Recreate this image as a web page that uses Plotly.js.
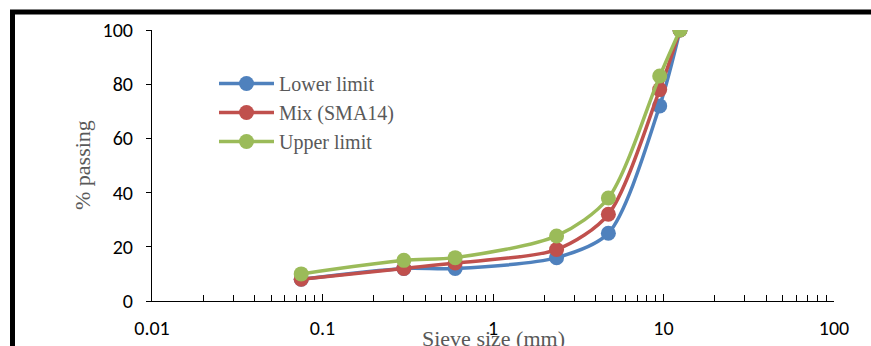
<!DOCTYPE html>
<html><head><meta charset="utf-8">
<script src="https://cdn.plot.ly/plotly-3.0.1.min.js"></script>
<style>html,body{margin:0;padding:0;background:#fff}#c{width:871px;height:346px}</style>
</head><body><div id="c"></div>
<script>
const sieve = [0.075, 0.3, 0.6, 2.36, 4.75, 9.5, 12.5];
const lowerLimit = [8, 12, 12, 16, 25, 72, 100];
const mixSMA14 = [8, 12, 14, 19, 32, 78, 100];
const upperLimit = [10, 15, 16, 24, 38, 83, 100];
const names = ['Lower limit', 'Mix (SMA14)', 'Upper limit'];
const colors = ['#4F81BD', '#C0504D', '#9BBB59'];
const series = [lowerLimit, mixSMA14, upperLimit];

const traces = series.map((s, i) => ({
  x: sieve, y: s, name: names[i], type: 'scatter', mode: 'lines+markers',
  line: {color: colors[i], width: 3.5, shape: 'spline', smoothing: 0.8},
  marker: {color: colors[i], size: 15}
}));

const serif = 'Liberation Serif, Times New Roman, serif';
const sans = 'Carlito, Lato, Open Sans, sans-serif';
const L = 152, R = 834, T = 30, B = 301, W = 871, H = 346;
const px = v => (v - L) / (R - L);
const py = v => (B - v) / (B - T);

const layout = {
  width: W, height: H,
  margin: {l: L, r: W - R, t: T, b: H - B, pad: 0},
  paper_bgcolor: '#fff', plot_bgcolor: '#fff',
  showlegend: true,
  legend: {x: px(214), y: py(64), xanchor: 'left', yanchor: 'top',
    font: {family: serif, size: 20, color: '#595959'},
    bgcolor: 'rgba(0,0,0,0)', itemwidth: 55, tracegroupgap: 0},
  xaxis: {type: 'log', range: [-2, 2], dtick: 1, showgrid: false, zeroline: false,
    showline: true, linecolor: '#000', linewidth: 1,
    ticks: 'inside', ticklen: 7, tickcolor: '#000',
    tickvals: [0.01, 0.1, 1, 10, 100], ticktext: ['0.01', '0.1', '1', '10', '100'],
    minor: {ticks: 'inside', ticklen: 6, tickcolor: '#000', dtick: 'D1', showgrid: false},
    ticklabelstandoff: 9,
    tickfont: {family: sans, size: 20, color: '#000'}},
  yaxis: {range: [0, 100], dtick: 20, showgrid: false, zeroline: false,
    showline: true, linecolor: '#000', linewidth: 1,
    ticks: 'outside', ticklen: 5, tickcolor: '#000',
    ticklabelstandoff: 9,
    tickfont: {family: sans, size: 20, color: '#000'}},
  annotations: [
    {text: 'Sieve size (mm)', xref: 'paper', yref: 'paper', x: px(493), y: py(339),
      xanchor: 'center', yanchor: 'middle', showarrow: false,
      font: {family: serif, size: 22, color: '#595959'}},
    {text: '% passing', xref: 'paper', yref: 'paper', x: px(82), y: py(165),
      xanchor: 'center', yanchor: 'middle', showarrow: false, textangle: -90,
      font: {family: serif, size: 22, color: '#595959'}}
  ],
  shapes: [
    {type: 'line', xref: 'paper', yref: 'paper', x0: px(12.5), x1: px(12.5), y0: py(12), y1: py(360),
      line: {color: '#000', width: 5}},
    {type: 'line', xref: 'paper', yref: 'paper', x0: px(10), x1: px(880), y0: py(12), y1: py(12),
      line: {color: '#000', width: 5}}
  ]
};
Plotly.newPlot('c', traces, layout, {displayModeBar: false, staticPlot: true});
</script></body></html>
